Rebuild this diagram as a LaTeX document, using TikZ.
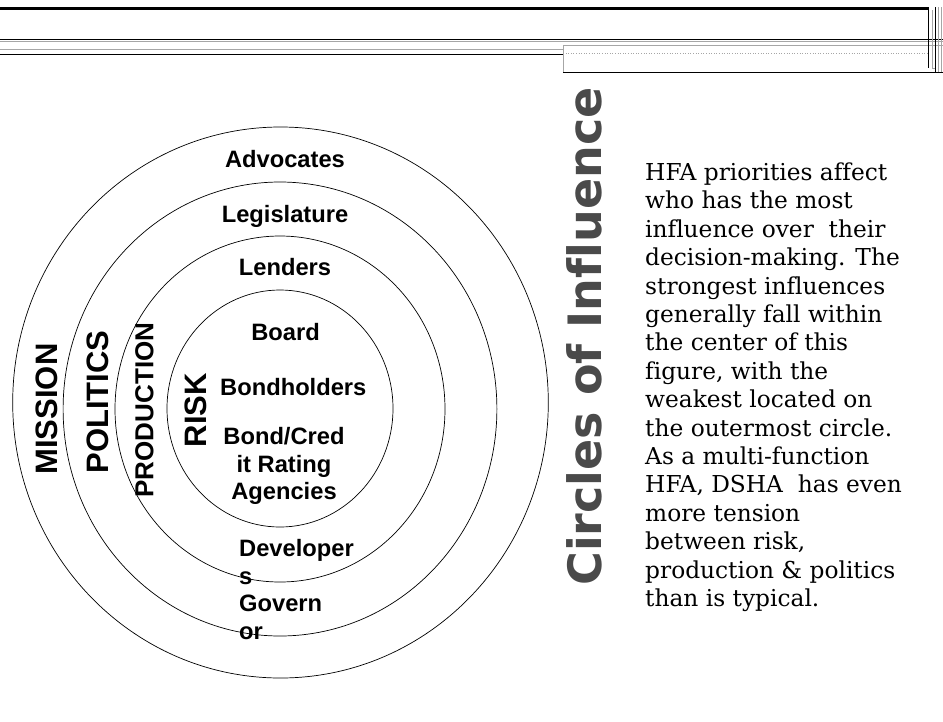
\documentclass[tikz,border=0pt]{standalone}
\usepackage{fontspec}
\setmainfont{DejaVu Serif}[Ligatures=NoCommon]
\setsansfont{Liberation Sans}
\newfontfamily\titlefont{DejaVu Sans}[Ligatures=NoCommon]
\usetikzlibrary{positioning}

\definecolor{titlegray}{HTML}{4A4A4A}
\tikzset{
  ring/.style={draw, line width=0.7pt},
  who/.style={font=\sffamily\bfseries\fontsize{23.7}{27.8}\selectfont, inner sep=0pt},
  tier/.style={font=\sffamily\bfseries\fontsize{31}{31}\selectfont, rotate=90, inner sep=0pt},
  rule/.style={line width=0.8pt},
  softrule/.style={gray!70, line width=0.6pt}
}

\begin{document}
\begin{tikzpicture}[x=1pt, y=-1pt]
      \useasboundingbox (0,0) rectangle (943,721);

      % page border
      \draw[line width=2.6pt] (0,8.5) -- (929,8.5);
      \draw[rule] (0,39.5) -- (943,39.5);
      \draw[softrule] (0,41.5) -- (943,41.5);
      \draw[softrule] (0,49) -- (563,49);
      \draw[rule] (0,54) -- (563,54);
      \draw[softrule] (943,45) -- (563,45) -- (563,72);
      \draw[rule] (563,72) -- (943,72);
      \draw[softrule, dotted] (563,53.5) -- (928,53.5);
      \draw[line width=1.6pt] (928.5,7) -- (928.5,68);
      \draw[softrule] (932,10) -- (932,68) -- (935,68);
      \draw[rule] (935.5,7) -- (935.5,72);
      \draw[softrule] (938.5,7) -- (938.5,72);
      \draw[softrule] (941,7) -- (941,72);

      % circles of influence
      \draw[ring] (280.5,402.5) ellipse [x radius=267.8pt, y radius=275.5pt];
      \draw[ring] (280,409) ellipse [x radius=216.9pt, y radius=227pt];
      \draw[ring] (280,409) ellipse [x radius=165pt, y radius=173pt];
      \draw[ring] (280,408.5) ellipse [x radius=113pt, y radius=118.5pt];

      \node[who, anchor=base] (advocates) at (285,167) {Advocates};
      \node[who, anchor=base] (legislature) at (285,222) {Legislature};
      \node[who, anchor=base] (lenders) at (285,275) {Lenders};
      \node[who, anchor=base] (board) at (285.5,340) {Board};
      \node[who, anchor=base] (bondholders) at (293.3,395) {Bondholders};
      \node[who, anchor=north, align=center] (agencies) at (284,427) {Bond/Cred\\it Rating\\Agencies};
      \node[who, anchor=north west, align=left] (developers) at (239,539) {Developer\\s\\Govern\\or};

      \node[tier] (mission) at (47,409) {MISSION};
      \node[tier] (politics) at (97.5,402) {POLITICS};
      \node[tier, font=\sffamily\bfseries\fontsize{26}{26}\selectfont] (production) at (144.5,410) {PRODUCTION};
      \node[tier] (risk) at (196,410) {RISK};

      % side text
      \node[rotate=90, text=titlegray, font=\titlefont\bfseries\fontsize{46}{46}\selectfont, inner sep=0pt] (title) at (584.5,336.5) {Circles of Influence};
      \node[anchor=north west, align=left, inner sep=0pt, font=\fontsize{23.3}{28.4}\selectfont] (blurb) at (645,162.5) {HFA priorities affect\\
        who has the most\\
        influence over~ their\\
        decision-making. The\\
        strongest influences\\
        generally fall within\\
        the center of this\\
        figure, with the\\
        weakest located on\\
        the outermost circle.\\
        As a multi-function\\
        HFA, DSHA~ has even\\
        more tension\\
        between risk,\\
        production \& politics\\
        than is typical.};
\end{tikzpicture}
\end{document}
